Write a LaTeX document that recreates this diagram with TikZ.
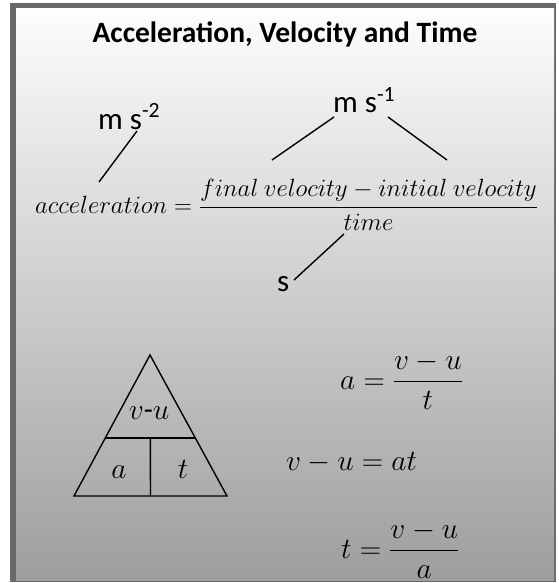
\documentclass[tikz,border=0pt]{standalone}
\usepackage{fix-cm}
\usepackage[no-math]{fontspec}
\setmainfont{Carlito}
\usetikzlibrary{calc}
\definecolor{framegray}{RGB}{104,104,104}
\definecolor{shadetop}{RGB}{253,253,253}
\definecolor{shadebot}{RGB}{158,158,158}
\tikzset{
  ttl/.style={font=\fontsize{29.5}{34}\selectfont\bfseries,inner sep=0pt},
  unit/.style={font=\fontsize{31}{36}\selectfont,inner sep=0pt},
  bigeq/.style={font=\fontsize{24.9}{30}\selectfont,inner sep=0pt},
  smalleq/.style={font=\fontsize{29.5}{34}\selectfont,inner sep=0pt},
  lnk/.style={line width=1.4pt},
}
\begin{document}
\begin{tikzpicture}[x=1pt,y=-1pt]
\useasboundingbox (0,0) rectangle (558,583);
% frame and shaded panel
\fill[framegray] (10,3) rectangle (556,582);
\shade[top color=shadetop,bottom color=shadebot] (16,9) rectangle (554,580);
% title
\node[ttl,anchor=base] (title) at (285,43) {Acceleration, Velocity and Time};
% word equation with units
\node[bigeq,anchor=base west] (acc) at (35,213) {$\displaystyle acceleration = \frac{final\ velocity - initial\ velocity}{time}$};
\node[unit,anchor=base west] (ms2) at (98,129) {m s\textsuperscript{-2}};
\node[unit,anchor=base west] (ms1) at (333,113) {m s\textsuperscript{-1}};
\node[unit,anchor=base west] (sec) at (277,291) {s};
\coordinate (ms2end) at (137,131);
\coordinate (accTip) at (99,182);
\coordinate (ms1left) at (334,117);
\coordinate (finTip) at (272,160);
\coordinate (ms1right) at (388,117);
\coordinate (iniTip) at (447,160);
\coordinate (secend) at (294,280);
\coordinate (timTip) at (344,234);
\draw[lnk] (ms2end) -- (accTip);
\draw[lnk] (ms1left) -- (finTip);
\draw[lnk] (ms1right) -- (iniTip);
\draw[lnk] (secend) -- (timTip);
% formula triangle
\coordinate (apex) at (150,355);
\coordinate (bl) at (74,496);
\coordinate (br) at (227,496);
\draw[lnk] (apex) -- (bl) -- (br) -- cycle;
\draw[lnk] ($(apex)!0.59!(bl)$) coordinate (ml) -- ($(apex)!0.59!(br)$) coordinate (mr);
\draw[lnk] ($(ml)!0.5!(mr)$) -- ($(bl)!0.5!(br)$);
\node[smalleq,anchor=base] (vu) at (149,419) {$v$-$u$};
\node[smalleq,anchor=base] (ta) at (119,478) {$a$};
\node[smalleq,anchor=base] (tt) at (183,478) {$t$};
% rearranged forms
\node[smalleq,anchor=base west] (eqa) at (340,389) {$a = \displaystyle\frac{v - u}{t}$};
\node[smalleq,anchor=base west] (eqv) at (286,470) {$v - u = at$};
\node[smalleq,anchor=base west] (eqt) at (341,558) {$t = \displaystyle\frac{v - u}{a}$};
\end{tikzpicture}
\end{document}
